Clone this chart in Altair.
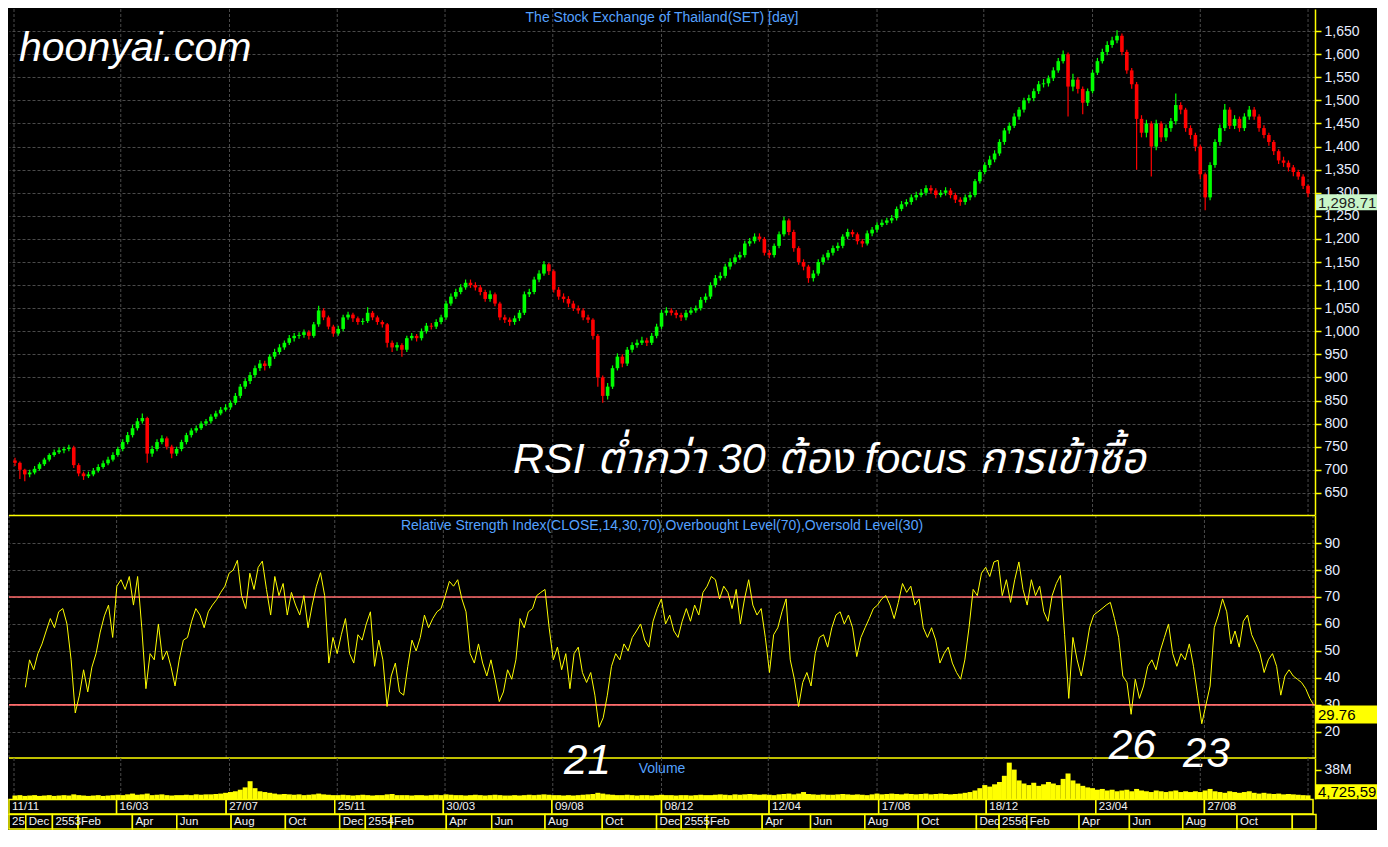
import altair as alt
import numpy as np
import pandas as pd

# ---------------- data ----------------
close = [715,700,690,694,702,712,722,732,738,742,745,748,710,692,686,690,698,706,714,722,
         732,745,760,775,790,805,812,735,745,760,768,750,735,745,760,775,785,790,800,805,
         815,822,830,835,845,860,880,892,905,920,930,925,945,955,965,975,985,990,992,998,
         990,1015,1045,1030,1010,995,1005,
         1030,1036,1028,1020,1022,1040,1030,1020,1015,975,965,970,960,985,990,985,1000,1012,1010,1020,
         1030,1060,1075,1085,1095,1105,1100,1095,1085,1070,1080,1060,1030,1025,1020,1028,1040,1080,1085,1112,
         1125,1145,1130,1090,1075,1070,1060,1050,1045,1030,1025,990,900,860,880,920,945,930,960,970,
         975,980,975,990,1010,1040,1045,
         1040,1035,1030,1040,1045,1050,1068,1075,1100,1115,1120,1140,1150,1160,1165,1190,1195,1205,1200,1170,
         1165,1185,1210,1240,1215,1180,1150,1140,1115,1125,1150,1160,1170,1180,1185,1205,1215,1210,1195,1190,
         1212,1220,1230,1235,1240,1245,1265,1275,1280,1290,1295,1300,1310,1305,1295,1300,1305,1295,1285,1280,
         1290,1295,1325,1345,1360,1372,
         1385,1410,1435,1445,1465,1480,1500,1505,1520,1535,1537,1548,1565,1585,1600,1530,1545,1525,1495,1520,
         1560,1585,1605,1620,1630,1640,1605,1565,1535,1460,1430,1450,1400,1450,1420,1440,1455,1490,1480,1440,
         1425,1400,1340,1290,1360,1410,1440,1480,1445,1460,1440,1465,1480,1465,1440,1425,1410,1390,1370,1365,
         1355,1345,1335,1315,1298.71]

open_ = [720,715,700,690,694,702,712,722,732,738,742,745,748,710,692,686,690,698,706,714,
         722,732,745,760,775,790,805,812,735,745,760,768,750,735,745,760,775,785,790,800,
         805,815,822,830,835,845,860,880,892,905,920,930,925,945,955,965,975,985,990,992,
         998,990,1015,1045,1030,1010,995,
         1005,1030,1036,1028,1020,1022,1040,1030,1020,1015,975,965,970,960,985,990,985,1000,1012,1010,
         1020,1030,1060,1075,1085,1095,1105,1100,1095,1085,1070,1080,1060,1030,1025,1020,1028,1040,1080,1085,
         1112,1125,1145,1130,1090,1075,1070,1060,1050,1045,1030,1025,990,900,860,880,920,945,930,960,
         970,975,980,975,990,1010,1040,
         1045,1040,1035,1030,1040,1045,1050,1068,1075,1100,1115,1120,1140,1150,1160,1165,1190,1195,1205,1200,
         1170,1165,1185,1210,1240,1215,1180,1150,1140,1115,1125,1150,1160,1170,1180,1185,1205,1215,1210,1195,
         1190,1212,1220,1230,1235,1240,1245,1265,1275,1280,1290,1295,1300,1310,1305,1295,1300,1305,1295,1285,
         1280,1290,1295,1325,1345,1360,
         1372,1385,1410,1435,1445,1465,1480,1500,1505,1520,1535,1537,1548,1565,1585,1600,1530,1545,1525,1495,
         1520,1560,1585,1605,1620,1630,1640,1605,1565,1535,1460,1430,1450,1400,1450,1420,1440,1455,1490,1480,
         1440,1425,1400,1340,1290,1360,1410,1440,1480,1445,1460,1440,1465,1480,1465,1440,1425,1410,1390,1370,
         1365,1355,1345,1335,1315]

high = [726,718,702,700,708,716,726,736,744,748,750,754,752,714,696,696,704,712,720,728,
        738,750,766,782,798,812,822,815,752,766,775,772,754,750,765,780,790,796,805,810,
        820,828,836,842,850,866,886,898,912,926,938,936,950,962,972,980,992,996,998,1004,
        1002,1020,1055,1050,1034,1014,1012,
        1036,1042,1040,1032,1028,1052,1044,1034,1024,1018,980,976,974,990,996,994,1006,1018,1018,1026,
        1036,1066,1082,1092,1102,1112,1112,1106,1100,1090,1088,1084,1064,1036,1030,1034,1046,1086,1092,1118,
        1132,1152,1148,1134,1096,1082,1076,1066,1056,1050,1036,1028,994,904,888,926,952,950,966,976,
        982,988,986,996,1016,1046,1052,
        1050,1046,1040,1046,1052,1056,1074,1082,1106,1122,1128,1146,1158,1166,1172,1196,1202,1212,1212,1204,
        1176,1190,1216,1248,1244,1220,1184,1156,1144,1132,1156,1166,1176,1186,1192,1210,1222,1220,1214,1200,
        1218,1226,1236,1242,1246,1252,1270,1282,1286,1296,1302,1308,1316,1316,1310,1306,1312,1310,1300,1290,
        1296,1302,1330,1350,1366,1380,
        1392,1416,1440,1452,1472,1486,1506,1512,1526,1542,1546,1554,1572,1592,1608,1604,1558,1550,1530,1526,
        1566,1592,1612,1628,1638,1652,1645,1610,1570,1540,1468,1458,1455,1458,1455,1448,1462,1515,1496,1484,
        1446,1430,1404,1344,1366,1416,1448,1492,1485,1468,1465,1472,1488,1486,1470,1446,1430,1414,1394,1378,
        1370,1360,1350,1340,1318]

low = [708,680,675,684,690,698,708,718,728,734,736,740,704,686,678,682,686,694,702,710,
       718,728,740,755,770,785,800,715,728,740,755,744,725,730,740,755,770,780,786,795,
       800,810,818,826,830,840,855,875,886,900,914,915,920,940,950,960,970,978,984,986,
       982,986,1010,1024,1004,988,990,
       1000,1025,1020,1014,1014,1018,1024,1014,1008,965,955,958,945,955,980,978,980,995,1004,1005,
       1015,1025,1055,1070,1080,1090,1094,1088,1078,1064,1064,1054,1024,1018,1012,1014,1022,1035,1074,1080,
       1106,1120,1122,1084,1068,1062,1052,1044,1038,1024,1018,982,880,845,852,875,915,922,925,954,
       964,970,968,970,985,1005,1034,
       1034,1028,1022,1024,1036,1040,1045,1062,1070,1095,1110,1115,1134,1145,1155,1160,1184,1190,1194,1164,
       1158,1160,1180,1205,1208,1172,1144,1132,1105,1108,1120,1144,1154,1164,1174,1180,1200,1204,1188,1182,
       1186,1206,1214,1226,1230,1234,1240,1260,1270,1274,1284,1290,1294,1298,1288,1290,1294,1288,1278,1272,
       1274,1284,1290,1320,1340,1354,
       1366,1380,1404,1428,1440,1458,1474,1494,1498,1514,1528,1530,1542,1560,1580,1465,1520,1515,1470,1488,
       1515,1555,1580,1598,1614,1624,1598,1558,1525,1350,1420,1420,1335,1392,1410,1412,1432,1448,1470,1432,
       1416,1390,1330,1262,1284,1354,1402,1434,1438,1438,1432,1434,1458,1458,1432,1418,1402,1382,1362,1356,
       1346,1336,1328,1308,1290]

volume_m = [4.5,5,4,4.5,5,4,4.5,5,4,4.5,5,4.5,6,5,4.5,4,4.5,5,4,4.5,
            5,5.5,5,6,7,5.5,6,7,5,5.5,6,5,4.5,5,5,5.5,5,6,5.5,6,
            6,6.5,7,8,9,10,12,15,23,14,10,9,8,7,6,6.5,6,5.5,6,5,
            5.5,6,7,6,5.5,5,5,5.5,5,4.5,5,5.5,5,4.5,5,5,6,6.5,5,5,
            5,4.5,5,5,4.5,5,5.5,5,6,5.5,5,5,4.5,5,5.5,5,4.5,5,5.5,5,
            4.5,4.5,5,4.5,5,5.5,5,5.5,6,5.5,5,5,4.5,5,4.5,5,5.5,6,6.5,8,
            7,6,5.5,5,5,5.5,5,4.5,5,5,4.5,5,5.5,5,5,4.5,5,5,4.5,5,
            5.5,5,5,5.5,6,5.5,5,6,5.5,6,6.5,6,5.5,6,5.5,5,6,6.5,7,6,
            7,9,6.5,6,5.5,6,5.5,5.5,6,6.5,6,5.5,6,5.5,5,6,7,6,6.5,7,
            6.5,6,7,6.5,6,6.5,7,6,6.5,7,6.5,6,6.5,7,8,9,11,14,18,16,
            19,22,30,47,38,24,20,18,21,17,19,22,20,18,26,33,24,20,17,15,
            14,12,13,11,12,10,11,12,10,13,11,10,9,11,10,9,10,11,9,10,
            9,10,9,11,13,10,9,8,10,9,8,9,10,8,7,8,7,6.5,7,6,6.5,6,5.5,5,4.725596]

rsi = [36.5,46.7,43,49,52.6,57.4,62,58.6,64.5,65.7,
       60,46.7,27,33.6,43,34.8,44,49,57,63,
       67,55,74,76.4,72.8,77.6,67,77.6,58.6,36,
       49,46.7,60,46.7,50,44.3,37,46.7,54,55,
       61,65.7,63.3,58.6,64.5,67,69,71.7,74,78.8,
       80,83.6,70.5,65.7,78.8,72.8,81,83.3,72.8,63.3,
       77.6,70.5,75,63.3,71.7,67,63.3,70.5,58.6,67,
       74,79,70.5,45.5,55,49,56,62,49,45.5,
       56,54,60,64.5,44.3,54,46.7,29.4,40.7,45.5,
       34.8,33.6,44.3,54,50,55,63.3,58.6,62,64.5,
       65.7,70.5,75.8,74,76.4,69.3,64.5,49,45.5,52.6,
       45.5,40.7,46.7,39.5,31.2,34.8,43,39.5,46.7,62,
       58.6,64.5,65.7,70.5,71.7,72.8,58.6,46.7,51.4,43,
       49,36,49,51.4,42,38.3,42,33.6,21.7,25.2,
       33.6,44.3,49,46.7,52.6,50,55,57.4,60,54,
       51.4,61,65.7,69.3,60,63.3,57.4,55,61,65.7,
       61,67,63.3,71.7,74,77.6,76.4,69.3,74,71.7,
       65.7,72.8,60,69.3,76.4,67,63.3,65.7,55,42,
       56,58.6,64.5,69.3,46.7,39.5,29.4,38.3,42,37,
       49,55,56,51.4,58.6,63.3,64.5,60,63.3,58.6,
       47.9,55,58.6,62,65.7,67,69.3,70.5,67,62,
       68,75,71.7,74,67,69.3,58.6,55,58.6,54,
       45.5,49,51.4,45.5,42,39.5,46.7,58.6,72.8,70.5,
       78.8,81,77.6,83,83.6,70.5,76.4,68,76.4,83,
       72.8,67,76.4,70.5,74,64.5,61,70.5,75,78,
       56,32.4,55,46.7,40.7,49,58.6,63.3,64.5,65.7,
       67,68,62,55,40.7,38.3,26.5,39.5,32.4,37,
       44.3,46.7,43,50,55,60,49,44.3,49,46.7,
       52.6,44.3,33.6,23,30,37,58.6,63.3,69.3,64.5,
       52.6,57.4,51.4,61,63.3,56,52.6,49,42,46.7,
       49,44.3,33.6,40.7,43,40.7,39.5,38.3,36,32.4,
       29.76]
RSI_START = 3.12      # bar position of the first RSI sample
RSI_STEP = 0.8422     # bars between RSI samples

row1_start = [-0.2, 21.6, 43.8, 65.8, 87.8, 109.8, 132.0, 153.8, 176.0, 197.8, 220.0, 242.0]
row1_end = 264.0
row1_label = ["11/11", "16/03", "27/07", "25/11", "30/03", "09/08", "08/12", "12/04",
              "17/08", "18/12", "23/04", "27/08"]
row2_start = [-0.2, 3.2, 8.6, 13.8, 24.8, 33.8, 44.8, 55.8, 66.8, 72.0, 77.2, 88.4, 97.6, 108.4,
              120.0, 131.0, 136.0, 141.2, 152.4, 162.2, 173.2, 184.0, 195.8, 200.4, 206.0, 216.6,
              226.8, 237.6, 248.6, 259.8]
row2_end = 264.6
row2_label = ["2552", "Dec", "2553", "Feb", "Apr", "Jun", "Aug", "Oct", "Dec", "2554", "Feb", "Apr",
              "Jun", "Aug", "Oct", "Dec", "2555", "Feb", "Apr", "Jun", "Aug", "Oct", "Dec", "2556",
              "Feb", "Apr", "Jun", "Aug", "Oct", ""]

price_ticks = list(range(650, 1651, 50))
rsi_ticks = [20, 30, 40, 50, 60, 70, 80, 90]
rsi_levels = [70, 30]
vol_ticks = [38]
last_close, last_close_txt = 1298.71, "1,298.71"
last_rsi, last_rsi_txt = 29.76, "29.76"
last_vol, last_vol_txt = 4.725596, "4,725,596"
ann_label = ["21", "26", "23"]
ann_t = [117.0, 227.4, 242.4]
ann_y = [4.5, 10.0, 7.0]

TITLE_PRICE = "The Stock Exchange of Thailand(SET) [day]"
TITLE_RSI = "Relative Strength Index(CLOSE,14,30,70),Overbought Level(70),Oversold Level(30)"
TITLE_VOL = "Volume"
BRAND = "hoonyai.com"
NOTE = "RSI ต่ำกว่า 30 ต้อง focus การเข้าซื้อ"

# ---------------- styling / layout ----------------
W = 1306
AX = 62
HP, HR, HV, HD = 506, 243, 41, 15
YEL = "#ffff00"
GRID = "#4a4a4a"
LBL = "#e6edff"
BLUE = "#55a2ff"
FONT = "Liberation Sans"
THAI_FONT = "Liberation Sans, Noto Sans Thai, Loma, Garuda, Norasi, Noto Sans, DejaVu Sans, sans-serif"

xs = alt.Scale(domain=[-0.2, 264.4], nice=False, zero=False)


def X(f):
    return alt.X(f, type="quantitative", scale=xs, axis=None)


def yaxis(values, fmt=None, label_expr=None, grid=True):
    kw = dict(orient="right", values=values, grid=grid, gridColor=GRID, gridDash=[3, 2], gridWidth=1,
              domainColor=YEL, domainWidth=1.5, tickColor=YEL, tickSize=6, tickWidth=1.5,
              labelColor=LBL, labelFont=FONT, labelFontSize=14, labelPadding=3,
              minExtent=AX, maxExtent=AX, title=None, labelOverlap=False, labelFlush=False)
    if fmt:
        kw["format"] = fmt
    if label_expr:
        kw["labelExpr"] = label_expr
    return alt.Axis(**kw)


def one(**cols):
    return pd.DataFrame({k: [v] for k, v in cols.items()})


def free_text(txt, x, y, **kw):
    return alt.Chart(one(txt=txt)).mark_text(**kw).encode(text="txt:N", x=alt.value(x), y=alt.value(y))


vgrid_df = pd.DataFrame({"t": row1_start + [row1_end]})


def vgrid():
    return alt.Chart(vgrid_df).mark_rule(color=GRID, strokeDash=[3, 2], strokeWidth=1).encode(x=X("t"))


# ---------------- price panel ----------------
pdf = pd.DataFrame({"t": np.arange(len(close)), "open": open_, "high": high, "low": low, "close": close})
pdf["dir"] = np.where(pdf["close"] >= pdf["open"], "up", "down")
col = alt.Color("dir:N", scale=alt.Scale(domain=["up", "down"], range=["#00ff00", "#ff0000"]), legend=None)
yP = alt.Scale(domain=[602, 1698], nice=False, zero=False)

wick = alt.Chart(pdf).mark_rule(strokeWidth=1.2).encode(
    x=X("t"), y=alt.Y("low:Q", scale=yP, axis=yaxis(price_ticks, ",.0f")), y2="high:Q", color=col)
body = alt.Chart(pdf).mark_bar(width=3.6).encode(
    x=X("t"), y=alt.Y("open:Q", scale=yP, axis=None), y2="close:Q", color=col)

pbox_df = one(v=last_close, lab=last_close_txt)
pbox = alt.Chart(pbox_df).mark_rect(color="#c8f5c8", yOffset=1, y2Offset=17).encode(
    x=alt.value(W + 1), x2=alt.value(W + AX), y=alt.Y("v:Q", scale=yP, axis=None), y2="v:Q")
ptxt = alt.Chart(pbox_df).mark_text(align="left", baseline="middle", dx=2, dy=9.5, fontSize=15,
                                     font=FONT, color="#202020").encode(
    x=alt.value(W + 1), y=alt.Y("v:Q", scale=yP, axis=None), text="lab:N")

price = alt.layer(
    vgrid(), wick, body,
    free_text(TITLE_PRICE, W / 2, 9, color=BLUE, fontSize=14, font=FONT, align="center", baseline="middle"),
    free_text(BRAND, 10, 40, color="white", fontSize=41, font=FONT, fontStyle="italic", align="left",
              baseline="middle"),
    free_text(NOTE, 504, 451, color="white", fontSize=43, font=THAI_FONT, fontStyle="italic", align="left",
              baseline="middle"),
    pbox, ptxt,
).resolve_axis(y="independent").properties(width=W, height=HP)

# ---------------- RSI panel ----------------
rdf = pd.DataFrame({"t": RSI_START + RSI_STEP * np.arange(len(rsi)), "rsi": rsi})
yR = alt.Scale(domain=[10.3, 100.4], nice=False, zero=False)
levels = alt.Chart(pd.DataFrame({"lvl": rsi_levels})).mark_rule(color="#ff6a6a", strokeWidth=1.6).encode(
    y=alt.Y("lvl:Q", scale=yR, axis=yaxis(rsi_ticks)))
rline = alt.Chart(rdf).mark_line(color=YEL, strokeWidth=1).encode(
    x=X("t"), y=alt.Y("rsi:Q", scale=yR, axis=None))
edge_top = alt.Chart(one(a=0)).mark_rule(color=YEL, strokeWidth=1.5).encode(
    x=alt.value(0), x2=alt.value(W), y=alt.value(0.5))
edge_bot = alt.Chart(one(a=0)).mark_rule(color=YEL, strokeWidth=1.5).encode(
    x=alt.value(0), x2=alt.value(W), y=alt.value(HR))
ann = alt.Chart(pd.DataFrame({"label": ann_label, "t": ann_t, "y": ann_y})).mark_text(
    fontSize=42, fontStyle="italic", font=FONT, color="white", align="center", baseline="alphabetic").encode(
    x=X("t"), y=alt.Y("y:Q", scale=yR, axis=None), text="label:N")
rbox_df = one(v=last_rsi, lab=last_rsi_txt)
rbox = alt.Chart(rbox_df).mark_rect(color=YEL, yOffset=0, y2Offset=18).encode(
    x=alt.value(W + 1), x2=alt.value(W + AX), y=alt.Y("v:Q", scale=yR, axis=None), y2="v:Q")
rtxt = alt.Chart(rbox_df).mark_text(align="left", baseline="middle", dx=2, dy=9, fontSize=15,
                                     font=FONT, color="#000000").encode(
    x=alt.value(W + 1), y=alt.Y("v:Q", scale=yR, axis=None), text="lab:N")

rsi_panel = alt.layer(
    vgrid(), levels, rline, edge_top, edge_bot,
    free_text(TITLE_RSI, W / 2, 11, color=BLUE, fontSize=14, font=FONT, align="center", baseline="middle"),
    ann, rbox, rtxt,
).resolve_axis(y="independent").properties(width=W, height=HR)

# ---------------- volume panel ----------------
vdf = pd.DataFrame({"t": np.arange(len(volume_m)), "vol": volume_m})
yV = alt.Scale(domain=[0, 53], nice=False, zero=True)
vbars = alt.Chart(vdf).mark_bar(color=YEL, width=5).encode(
    x=X("t"), y=alt.Y("vol:Q", scale=yV, axis=yaxis(vol_ticks, label_expr="datum.value + 'M'", grid=False)))
vbox_df = one(v=last_vol, lab=last_vol_txt)
vbox = alt.Chart(vbox_df).mark_rect(color=YEL, yOffset=-11, y2Offset=4).encode(
    x=alt.value(W + 1), x2=alt.value(W + AX), y=alt.Y("v:Q", scale=yV, axis=None), y2="v:Q")
vtxt = alt.Chart(vbox_df).mark_text(align="left", baseline="middle", dx=2, dy=-3.5, fontSize=15,
                                     font=FONT, color="#000000", limit=60, ellipsis="\u200b").encode(
    x=alt.value(W + 1), y=alt.Y("v:Q", scale=yV, axis=None), text="lab:N")

vol_panel = alt.layer(
    vgrid(), vbars,
    free_text(TITLE_VOL, W / 2, 11, color=BLUE, fontSize=14, font=FONT, align="center", baseline="middle"),
    vbox, vtxt,
).resolve_axis(y="independent").properties(width=W, height=HV)


# ---------------- date rows ----------------
def date_row(starts, end, labels, first_special=False):
    df = pd.DataFrame({"s": starts, "e": starts[1:] + [end], "lab": labels})
    box = dict(fill="#000000", stroke=YEL, strokeWidth=1.5)
    txt = dict(align="left", baseline="middle", dx=3, fontSize=11.5, font=FONT, color="#f2f2f2")
    y0, y1, ym = alt.value(0.5), alt.value(HD), alt.value(HD / 2 + 0.5)
    layers = []
    if first_special:
        head, rest = df.iloc[:1], df.iloc[1:]
        layers.append(alt.Chart(head).mark_rect(**box).encode(x=X("s"), x2="e:Q", y=y0, y2=y1))
        layers.append(alt.Chart(head).mark_text(limit=15, ellipsis="\u200b", **txt).encode(
            x=X("s"), y=ym, text="lab:N"))
        layers.append(alt.Chart(rest).mark_rect(**box).encode(x=X("s"), x2="e:Q", y=y0, y2=y1))
        layers.append(alt.Chart(rest).mark_text(**txt).encode(x=X("s"), y=ym, text="lab:N"))
    else:
        layers.append(alt.Chart(df).mark_rect(**box).encode(x=X("s"), x2="e:Q", y=y0, y2=y1))
        layers.append(alt.Chart(df).mark_text(**txt).encode(x=X("s"), y=ym, text="lab:N"))
    return alt.layer(*layers).properties(width=W, height=HD)


row1 = date_row(row1_start, row1_end, row1_label)
row2 = date_row(row2_start, row2_end, row2_label, first_special=True)

chart = alt.vconcat(price, rsi_panel, vol_panel, row1, row2, spacing=0, bounds="flush").properties(
    background="#000000", padding=0
).configure_view(strokeWidth=0)

chart.save("out.html", embed_options={"renderer": "svg", "actions": False})
